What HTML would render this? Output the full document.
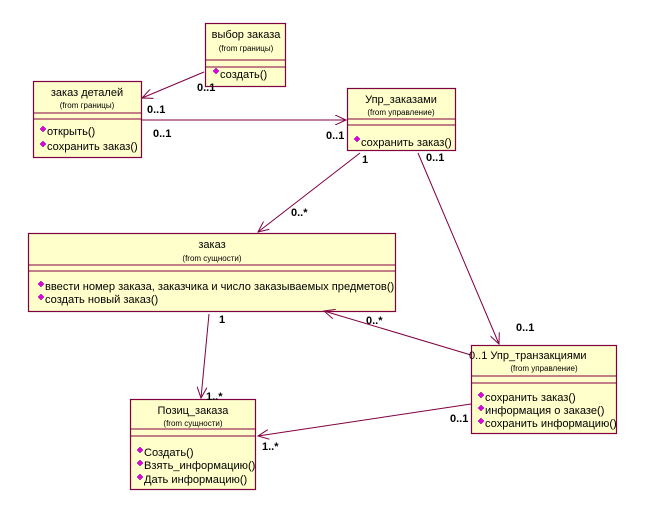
<!DOCTYPE html>
<html><head><meta charset="utf-8"><style>
body{margin:0;background:#fff;}
svg{display:block;font-family:"Liberation Sans","DejaVu Sans",sans-serif;}
.n{font-size:11px;fill:#000;}
.f{font-size:8px;fill:#000;}
.o{font-size:11.1px;fill:#000;}
.m{font-size:11px;font-weight:bold;fill:#000;}
</style></head><body>
<svg width="646" height="514" viewBox="0 0 646 514">
<defs>
<marker id="a" markerWidth="12" markerHeight="10" refX="11" refY="5" orient="auto" markerUnits="userSpaceOnUse">
<path d="M0,0 L11,5 L0,10" fill="none" stroke="#800040" stroke-width="1"/></marker>
<g id="d"><path d="M0,3 L3,0 L6,3 L3,6Z" fill="#e000e0" stroke="#800080" stroke-width="0.5"/></g>
</defs>
<g fill="#ffffcc" stroke="#800040" stroke-width="1.2">
<rect x="205.5" y="23.5" width="80" height="63"/>
<rect x="33.5" y="81.5" width="108" height="76"/>
<rect x="347.5" y="88.5" width="108" height="62"/>
<rect x="28.5" y="233.5" width="367" height="78"/>
<rect x="130.5" y="399.5" width="125" height="90"/>
<rect x="471.5" y="345.5" width="145" height="88"/>
</g>
<g stroke="#800040" stroke-width="1">
<path d="M205,60H285M205,67H285"/>
<path d="M33,113H141M33,119H141"/>
<path d="M347,119H455M347,125H455"/>
<path d="M28,265H395M28,271H395"/>
<path d="M130,429H255M130,436H255"/>
<path d="M471,376H616M471,383H616"/>
</g>
<g stroke="#800040" stroke-width="1" fill="none" marker-end="url(#a)">
<line x1="204" y1="72" x2="142" y2="98"/>
<line x1="142" y1="120" x2="346" y2="120"/>
<line x1="360" y1="153" x2="258" y2="232"/>
<line x1="418" y1="153" x2="499" y2="344"/>
<line x1="471" y1="355" x2="324" y2="311"/>
<line x1="209" y1="314" x2="201" y2="398"/>
<line x1="471" y1="404" x2="258" y2="436"/>
</g>
<g text-anchor="middle">
<text class="n" x="246" y="38">выбор заказа</text><text class="f" x="246" y="51">(from границы)</text>
<text class="n" x="87" y="96">заказ деталей</text><text class="f" x="87" y="108">(from границы)</text>
<text class="n" x="401" y="103">Упр_заказами</text><text class="f" x="401" y="115">(from управление)</text>
<text class="n" x="212" y="248">заказ</text><text class="f" x="212" y="261">(from сущности)</text>
<text class="n" x="193" y="414">Позиц_заказа</text><text class="f" x="193" y="426">(from сущности)</text>
<text class="f" x="544" y="371">(from управление)</text>
</g>
<text class="n" x="469" y="359">0..1  Упр_транзакциями</text>
<use href="#d" x="213" y="68"/><text class="o" x="220" y="78">создать()</text>
<use href="#d" x="40" y="126"/><text class="o" x="47" y="135">открыть()</text>
<use href="#d" x="40" y="141"/><text class="o" x="47" y="150">сохранить заказ()</text>
<use href="#d" x="354" y="136"/><text class="o" x="361" y="146">сохранить заказ()</text>
<use href="#d" x="38" y="281"/><text class="o" x="45" y="290">ввести номер заказа, заказчика и число заказываемых предметов()</text>
<use href="#d" x="38" y="294"/><text class="o" x="45" y="303">создать новый заказ()</text>
<use href="#d" x="137" y="447"/><text class="o" x="144" y="456">Создать()</text>
<use href="#d" x="137" y="460"/><text class="o" x="144" y="469">Взять_информацию()</text>
<use href="#d" x="137" y="474"/><text class="o" x="144" y="483">Дать информацию()</text>
<use href="#d" x="478" y="392"/><text class="o" x="485" y="401">сохранить заказ()</text>
<use href="#d" x="478" y="405"/><text class="o" x="485" y="414">информация о заказе()</text>
<use href="#d" x="478" y="418"/><text class="o" x="485" y="427">сохранить информацию()</text>
<text class="m" x="197" y="91">0..1</text>
<text class="m" x="147" y="113">0..1</text>
<text class="m" x="153" y="137">0..1</text>
<text class="m" x="326" y="139">0..1</text>
<text class="m" x="362" y="163">1</text>
<text class="m" x="426" y="161">0..1</text>
<text class="m" x="291" y="216">0..*</text>
<text class="m" x="219" y="323">1</text>
<text class="m" x="366" y="324">0..*</text>
<text class="m" x="516" y="331">0..1</text>
<text class="m" x="206" y="400">1..*</text>
<text class="m" x="450" y="422">0..1</text>
<text class="m" x="262" y="450">1..*</text>
</svg>
</body></html>
